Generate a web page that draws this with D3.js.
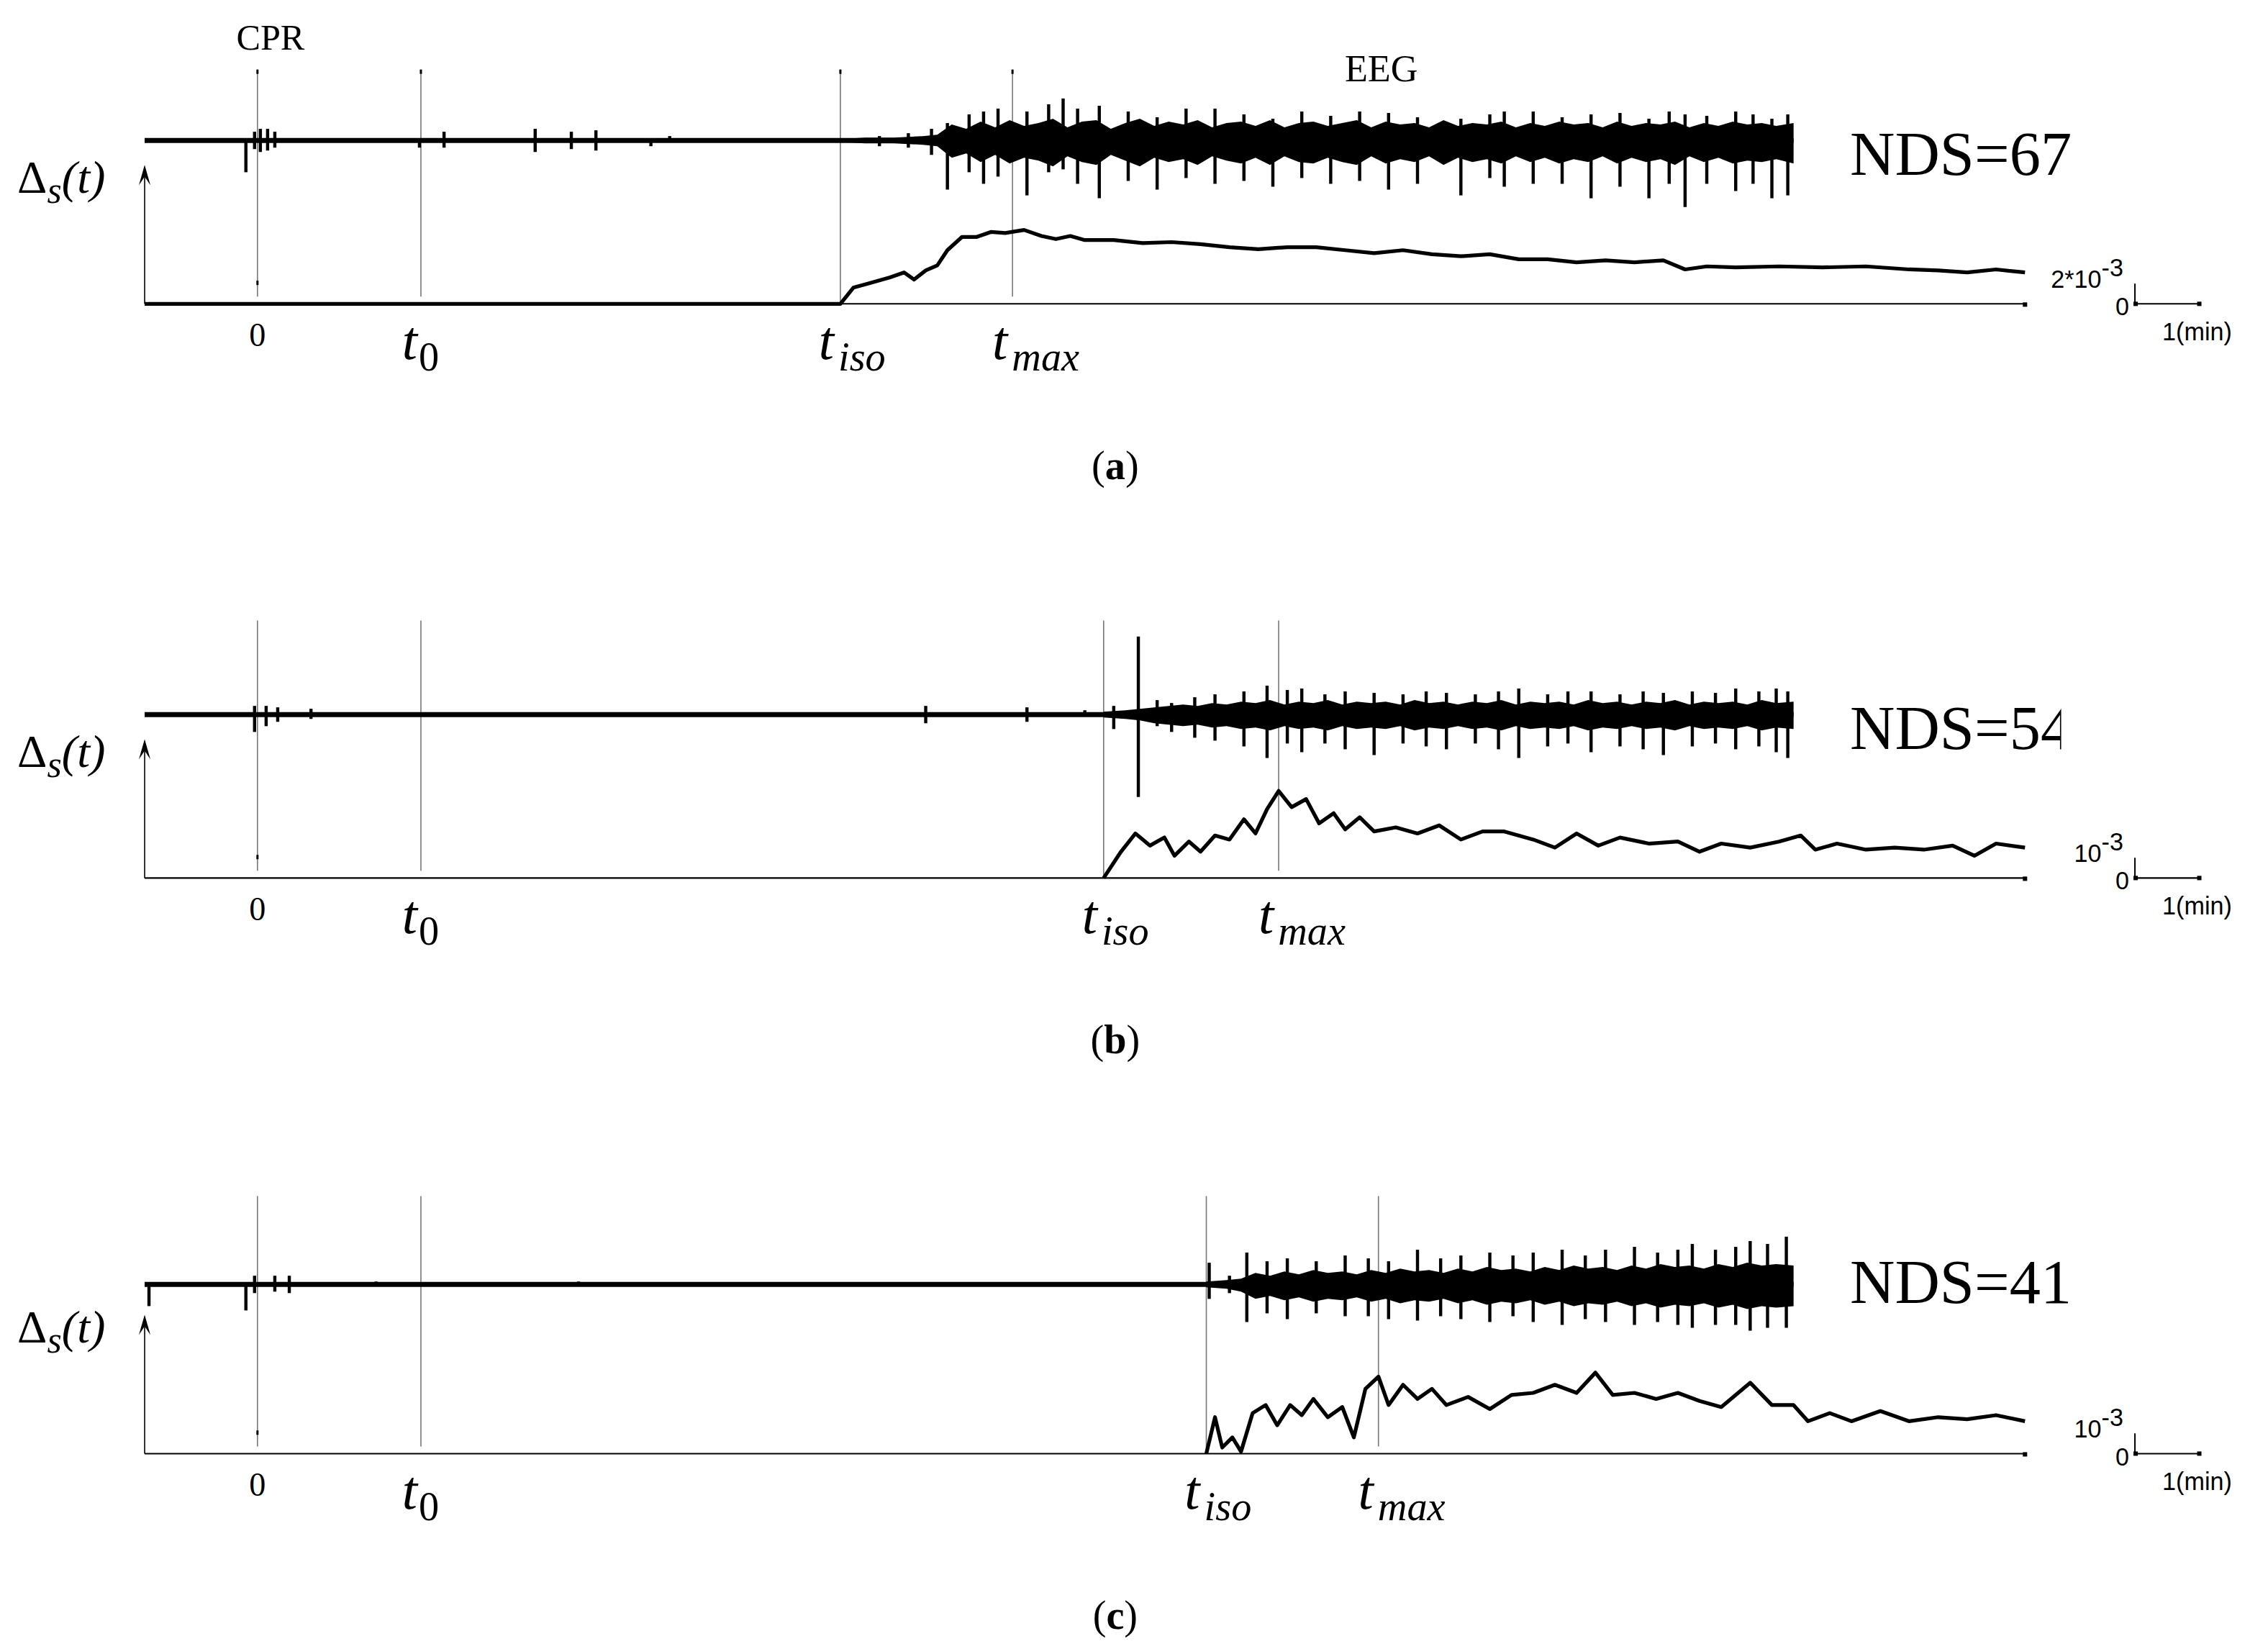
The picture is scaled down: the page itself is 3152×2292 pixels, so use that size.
<!DOCTYPE html>
<html>
<head>
<meta charset="utf-8">
<script src="https://cdn.jsdelivr.net/npm/d3@7"></script>
<style>
  body { margin: 0; background: #fff; }
  svg { display: block; }
</style>
</head>
<body>
<div id="chart"></div>
<script>
// ---- data (time in minutes, 0 = start of CPR) ----
const panels = ["a", "b", "c"];
const ndsScores = [67, 54, 41];
const scaleLabels = ["2*10", "10", "10"];
const scaleUnits = [2, 1, 1];          // size of scale bar in 10^-3
const t0Times = [5.65, 5.65, 5.65];
const tisoTimes = [20.15, 29.25, 32.8];
const tmaxTimes = [26.1, 35.3, 38.75];
const eegEnd = 53.1;

// Delta_s(t) curves, units of 10^-3
const deltaTimesA = [-3.9, 20.15, 20.6, 21.1, 21.85, 22.35, 22.7, 23.1, 23.5, 23.85, 24.35, 24.85, 25.35, 25.85, 26.5, 27.1, 27.6, 28.1, 28.6, 29.6, 30.6, 31.6, 32.6, 33.6, 34.6, 35.6, 36.6, 37.6, 38.6, 39.6, 40.6, 41.6, 42.6, 43.6, 44.6, 45.6, 46.6, 47.6, 48.6, 49.35, 50.1, 51.1, 52.6, 54.1, 55.6, 57.1, 58.1, 59.1, 60.1, 61.1];
const deltaValuesA = [0, 0, 1.6, 2.0, 2.6, 3.1, 2.4, 3.3, 3.8, 5.3, 6.6, 6.6, 7.1, 7.0, 7.3, 6.7, 6.4, 6.7, 6.3, 6.3, 6.0, 6.1, 5.9, 5.6, 5.4, 5.6, 5.6, 5.3, 5.0, 5.3, 4.9, 4.7, 4.9, 4.4, 4.4, 4.1, 4.3, 4.1, 4.3, 3.4, 3.7, 3.6, 3.7, 3.6, 3.7, 3.4, 3.3, 3.1, 3.4, 3.1];
const deltaTimesB = [29.25, 29.85, 30.35, 30.85, 31.35, 31.7, 32.2, 32.6, 33.1, 33.6, 34.1, 34.5, 34.9, 35.3, 35.75, 36.25, 36.7, 37.2, 37.6, 38.1, 38.6, 39.35, 40.1, 40.85, 41.6, 42.35, 43.1, 44.1, 44.85, 45.6, 46.35, 47.1, 48.1, 49.1, 49.85, 50.6, 51.6, 52.6, 53.35, 53.85, 54.6, 55.6, 56.6, 57.6, 58.6, 59.35, 60.1, 61.1];
const deltaValuesB = [0, 1.3, 2.2, 1.6, 2.0, 1.1, 1.8, 1.3, 2.1, 1.9, 2.9, 2.2, 3.4, 4.3, 3.5, 3.9, 2.7, 3.2, 2.4, 3.0, 2.3, 2.5, 2.2, 2.6, 1.9, 2.3, 2.3, 1.9, 1.5, 2.2, 1.6, 2.0, 1.7, 1.8, 1.3, 1.7, 1.5, 1.8, 2.1, 1.4, 1.7, 1.4, 1.5, 1.4, 1.6, 1.1, 1.7, 1.5];
const deltaTimesC = [32.8, 33.1, 33.35, 33.7, 34.0, 34.4, 34.85, 35.25, 35.7, 36.1, 36.5, 37.0, 37.5, 37.9, 38.3, 38.75, 39.1, 39.6, 40.1, 40.6, 41.1, 41.85, 42.6, 43.35, 44.1, 44.85, 45.6, 46.25, 46.85, 47.6, 48.35, 49.1, 49.85, 50.6, 51.6, 52.35, 53.1, 53.6, 54.35, 55.1, 56.1, 57.1, 58.1, 59.1, 60.1, 61.1];
const deltaValuesC = [0, 1.8, 0.3, 0.8, 0.1, 2.0, 2.4, 1.4, 2.4, 1.9, 2.7, 1.8, 2.3, 0.8, 3.2, 3.8, 2.4, 3.4, 2.7, 3.2, 2.4, 2.8, 2.2, 2.9, 3.0, 3.4, 3.0, 4.0, 2.9, 3.0, 2.7, 3.0, 2.6, 2.3, 3.5, 2.4, 2.4, 1.6, 2.0, 1.6, 2.1, 1.6, 1.8, 1.7, 1.9, 1.6];

// EEG: dense activity as an envelope (upper / lower amplitude, a.u.)
const envTimesA = [20.15, 21, 22, 23, 23.5, 24, 24.5, 25, 25.5, 26, 26.5, 27, 27.5, 28, 28.5, 29, 29.5, 30, 30.5, 31, 31.5, 32, 32.5, 33, 33.5, 34, 34.5, 35, 35.5, 36, 36.5, 37, 37.5, 38, 38.5, 39, 39.5, 40, 40.5, 41, 41.5, 42, 42.5, 43, 43.5, 44, 44.5, 45, 45.5, 46, 46.5, 47, 47.5, 48, 48.5, 49, 49.5, 50, 50.5, 51, 51.5, 52, 52.5, 53.1];
const envUpA = [1, 2, 2, 3, 4, 11, 8, 13, 9, 14, 10, 12, 15, 9, 13, 14, 8, 12, 15, 10, 13, 11, 14, 9, 12, 13, 10, 14, 9, 12, 13, 10, 12, 14, 9, 13, 11, 12, 9, 14, 10, 12, 11, 13, 9, 12, 10, 13, 11, 12, 9, 13, 10, 12, 11, 13, 9, 12, 10, 13, 11, 12, 10, 12];
const envDownA = [1, 2, 2, 3, 4, 12, 9, 15, 10, 16, 12, 14, 18, 11, 15, 17, 10, 14, 18, 12, 15, 13, 17, 11, 14, 16, 12, 17, 11, 15, 16, 12, 15, 17, 11, 16, 13, 15, 11, 17, 12, 15, 13, 16, 11, 15, 12, 16, 13, 15, 11, 16, 12, 15, 13, 17, 11, 15, 12, 16, 14, 15, 13, 16];
const envTimesB = [29.25, 30, 30.5, 31, 31.5, 32, 32.5, 33, 33.5, 34, 34.5, 35, 35.5, 36, 36.5, 37, 37.5, 38, 38.5, 39, 39.5, 40, 40.5, 41, 41.5, 42, 42.5, 43, 43.5, 44, 44.5, 45, 45.5, 46, 46.5, 47, 47.5, 48, 48.5, 49, 49.5, 50, 50.5, 51, 51.5, 52, 52.5, 53.1];
const envUpB = [2, 3, 4, 5, 6, 7, 6, 8, 7, 9, 8, 10, 7, 9, 8, 10, 7, 9, 8, 9, 7, 10, 8, 9, 7, 9, 8, 10, 7, 9, 8, 9, 7, 10, 8, 9, 7, 9, 8, 10, 7, 9, 8, 9, 7, 10, 8, 9];
const envDownB = [2, 3, 4, 6, 7, 8, 7, 9, 8, 10, 9, 11, 8, 10, 9, 11, 8, 10, 9, 10, 8, 11, 9, 10, 8, 10, 9, 11, 8, 10, 9, 10, 8, 11, 9, 10, 8, 10, 9, 11, 8, 10, 9, 10, 8, 11, 9, 10];
const envTimesC = [32.8, 33.5, 34, 34.5, 35, 35.5, 36, 36.5, 37, 37.5, 38, 38.5, 39, 39.5, 40, 40.5, 41, 41.5, 42, 42.5, 43, 43.5, 44, 44.5, 45, 45.5, 46, 46.5, 47, 47.5, 48, 48.5, 49, 49.5, 50, 50.5, 51, 51.5, 52, 52.5, 53.1];
const envUpC = [2, 3, 4, 8, 6, 9, 7, 10, 8, 9, 7, 10, 8, 11, 9, 10, 8, 11, 9, 12, 10, 11, 9, 12, 10, 13, 11, 12, 10, 13, 11, 14, 12, 13, 11, 14, 12, 15, 13, 14, 13];
const envDownC = [2, 3, 5, 10, 8, 11, 9, 12, 10, 11, 9, 12, 10, 13, 11, 12, 10, 13, 11, 14, 12, 13, 11, 14, 12, 15, 13, 14, 12, 15, 13, 16, 14, 15, 13, 16, 14, 17, 15, 16, 15];

// EEG single spikes: [time, up, down]
const spikesA = [[-0.4, 0, 22], [-0.1, 6, 6], [0.1, 8, 8], [0.35, 8, 7], [0.6, 6, 5], [5.6, 0, 5], [6.45, 6, 5], [9.6, 8, 8], [10.85, 6, 6], [11.7, 7, 7], [13.6, 0, 4], [14.25, 3, 0], [21.5, 3, 4], [22.5, 5, 5],
  [23.3, 8, 10], [23.85, 12, 34], [24.6, 18, 22], [25.1, 20, 30], [25.6, 22, 25], [26.6, 20, 38], [27.35, 25, 22], [27.85, 29, 20], [28.35, 22, 30], [29.1, 24, 40], [30.1, 20, 28], [31.1, 16, 34], [32.1, 22, 26], [33.1, 22, 30], [34.1, 18, 28], [35.1, 15, 32], [36.1, 20, 26], [37.1, 17, 30], [38.1, 20, 28], [39.1, 19, 34], [40.1, 16, 30], [41.6, 15, 38], [42.6, 18, 26], [43.1, 20, 32], [44.1, 20, 30], [45.1, 16, 30], [46.1, 18, 40], [47.1, 19, 32], [48.1, 15, 40], [48.8, 20, 30], [49.35, 18, 46], [50.1, 17, 30], [51.1, 20, 35], [51.7, 18, 30], [52.35, 15, 40], [52.9, 18, 38]];
const spikesB = [[-0.1, 6, 12], [0.3, 6, 8], [0.7, 5, 5], [1.85, 4, 3], [23.1, 6, 6], [26.6, 5, 5], [28.6, 3, 0], [29.6, 6, 10], [30.45, 54, 57], [31.1, 10, 8], [31.6, 8, 12], [32.4, 12, 16], [33.1, 14, 18], [34.1, 16, 22], [34.9, 20, 30], [35.6, 17, 20], [36.1, 18, 26], [36.9, 14, 20], [37.6, 16, 24], [38.6, 15, 28], [39.6, 14, 20], [40.4, 16, 22], [41.1, 15, 24], [42.1, 14, 20], [42.9, 16, 24], [43.6, 18, 30], [44.6, 14, 22], [45.3, 16, 20], [46.1, 16, 26], [47.1, 14, 22], [47.9, 16, 24], [48.6, 15, 28], [49.6, 16, 22], [50.4, 15, 20], [51.1, 18, 24], [51.9, 16, 22], [52.5, 18, 26], [52.9, 16, 30]];
const spikesC = [[-3.75, 0, 15], [-0.4, 0, 18], [-0.1, 6, 6], [0.6, 6, 5], [1.1, 6, 6], [4.1, 2, 0], [11.1, 2, 0], [32.9, 15, 10], [33.6, 6, 6], [34.2, 22, 26], [34.9, 16, 20], [35.6, 18, 24], [36.6, 16, 20], [37.6, 20, 22], [38.4, 18, 22], [39.1, 16, 24], [40.1, 24, 25], [40.9, 18, 22], [41.6, 20, 24], [42.6, 22, 26], [43.4, 20, 22], [44.1, 22, 26], [45.1, 24, 28], [45.9, 20, 24], [46.6, 24, 26], [47.6, 26, 28], [48.4, 22, 26], [49.1, 24, 28], [49.6, 28, 30], [50.4, 24, 28], [51.1, 26, 28], [51.6, 30, 32], [52.2, 28, 30], [52.85, 33, 30]];

const deltaTimes = [deltaTimesA, deltaTimesB, deltaTimesC];
const deltaValues = [deltaValuesA, deltaValuesB, deltaValuesC];
const envTimes = [envTimesA, envTimesB, envTimesC];
const envUp = [envUpA, envUpB, envUpC];
const envDown = [envDownA, envDownB, envDownC];
const spikes = [spikesA, spikesB, spikesC];

// ---- layout (drawn in a 1568 x 1140 frame, scaled to the window) ----
const W = 1568, H = 1140;
const panelTop = [0, 397, 795];
const serif = "'Liberation Serif', 'DejaVu Serif', serif";
const sans = "'Liberation Sans', Arial, sans-serif";

const svg = d3.select("#chart").append("svg")
  .attr("width", 3152).attr("height", 2292)
  .attr("viewBox", `0 0 ${W} ${H}`);

const x = d3.scaleLinear().domain([-3.9, 61.1]).range([100, 1400]);

panels.forEach((p, i) => {
  const g = svg.append("g").attr("transform", `translate(0,${panelTop[i]})`);
  const eegBase = [97, 97, 93][i];
  const axisY = 210;
  const yE = d3.scaleLinear().domain([-50, 50]).range([eegBase + 50, eegBase - 50]);
  const yD = d3.scaleLinear().domain([0, 1]).range([axisY, axisY - 14 / scaleUnits[i]]);
  const lineTop = i === 0 ? 48 : 32;

  // vertical marker lines
  const marks = [0, t0Times[i], tisoTimes[i], tmaxTimes[i]];
  g.selectAll(".vline").data(marks).join("line")
    .attr("x1", d => x(d)).attr("x2", d => x(d))
    .attr("y1", lineTop).attr("y2", (d, k) => k === 2 ? axisY : axisY - 5)
    .attr("stroke", "#777").attr("stroke-width", 0.8);
  if (i === 0) {
    g.selectAll(".vtick").data(marks).join("line")
      .attr("x1", d => x(d)).attr("x2", d => x(d))
      .attr("y1", lineTop).attr("y2", lineTop + 3)
      .attr("stroke", "#000").attr("stroke-width", 1.5);
  }
  g.append("line").attr("x1", x(0)).attr("x2", x(0)).attr("y1", axisY - 16).attr("y2", axisY - 13)
    .attr("stroke", "#000").attr("stroke-width", 1.5);

  // time axis and Delta_s arrow
  g.append("line").attr("x1", x(-3.9)).attr("x2", x(61.1)).attr("y1", axisY).attr("y2", axisY)
    .attr("stroke", "#000").attr("stroke-width", 1);
  g.append("rect").attr("x", x(61.1) - 1.5).attr("y", axisY - 1).attr("width", 3).attr("height", 3).attr("fill", "#000");
  g.append("line").attr("x1", x(-3.9)).attr("x2", x(-3.9)).attr("y1", axisY).attr("y2", 118)
    .attr("stroke", "#000").attr("stroke-width", 0.8);
  g.append("path").attr("d", `M${x(-3.9) - 4},128 L${x(-3.9)},114 L${x(-3.9) + 4},128 L${x(-3.9)},122 Z`).attr("fill", "#000");

  // EEG baseline
  g.append("line").attr("x1", x(-3.9)).attr("x2", x(eegEnd)).attr("y1", yE(0)).attr("y2", yE(0))
    .attr("stroke", "#000").attr("stroke-width", 3.5);

  // EEG envelope
  const env = d3.zip(envTimes[i], envUp[i], envDown[i]);
  g.append("path").datum(env)
    .attr("d", d3.area().x(d => x(d[0])).y0(d => yE(-d[2])).y1(d => yE(d[1])))
    .attr("fill", "#000");
  g.selectAll(".spk").data(spikes[i]).join("line")
    .attr("x1", d => x(d[0])).attr("x2", d => x(d[0]))
    .attr("y1", d => yE(d[1])).attr("y2", d => yE(-d[2]))
    .attr("stroke", "#000").attr("stroke-width", 2.2);

  // Delta_s curve
  g.append("path").datum(d3.zip(deltaTimes[i], deltaValues[i]))
    .attr("d", d3.line().x(d => x(d[0])).y(d => yD(d[1])))
    .attr("fill", "none").attr("stroke", "#000").attr("stroke-width", 2.6).attr("stroke-linejoin", "round");

  // tick labels
  g.append("text").attr("x", x(0)).attr("y", 239).attr("text-anchor", "middle")
    .style("font-family", serif).style("font-size", "23px").text("0");
  const tl = (t, sub, dx) => {
    const tx = g.append("text").attr("x", x(t) + dx).attr("y", 248)
      .style("font-family", serif).style("font-style", "italic").style("font-size", "38px");
    tx.append("tspan").text("t");
    tx.append("tspan").attr("dy", 8).attr("dx", sub === "0" ? 1 : 3).style("font-size", "28px")
      .style("font-style", sub === "0" ? "normal" : "italic").text(sub);
  };
  tl(t0Times[i], "0", -13);
  tl(tisoTimes[i], "iso", -15);
  tl(tmaxTimes[i], "max", -14);

  // Delta_s(t) label
  const dl = g.append("text").attr("x", 12).attr("y", 133).style("font-family", serif).style("font-size", "32px");
  dl.append("tspan").text("Δ");
  dl.append("tspan").attr("dy", 7).style("font-style", "italic").style("font-size", "26px").text("s");
  dl.append("tspan").attr("dy", -7).style("font-style", "italic").text("(t)");

  // NDS score (clipped at the right page edge in (b))
  const clipId = "clip" + p;
  g.append("clipPath").attr("id", clipId).append("rect").attr("x", 1200).attr("y", 0).attr("width", i === 1 ? 225 : 300).attr("height", 300);
  g.append("text").attr("x", 1279).attr("y", i === 2 ? 106 : 121).attr("clip-path", `url(#${clipId})`)
    .style("font-family", serif).style("font-size", "43px").text("NDS=" + ndsScores[i]);

  // scale bar
  const sbx = 1476;
  g.append("line").attr("x1", sbx).attr("x2", sbx).attr("y1", yD(scaleUnits[i])).attr("y2", axisY)
    .attr("stroke", "#000").attr("stroke-width", 1);
  g.append("line").attr("x1", sbx).attr("x2", sbx + 44).attr("y1", axisY).attr("y2", axisY)
    .attr("stroke", "#000").attr("stroke-width", 1);
  g.append("rect").attr("x", sbx - 1).attr("y", axisY - 1.5).attr("width", 3).attr("height", 3);
  g.append("rect").attr("x", sbx + 43).attr("y", axisY - 1.5).attr("width", 3).attr("height", 3);
  const sl = g.append("text").attr("x", 1468).attr("y", 199).attr("text-anchor", "end")
    .style("font-family", sans).style("font-size", "17px");
  sl.append("tspan").text(scaleLabels[i]);
  sl.append("tspan").attr("dy", -8).text("-3");
  g.append("text").attr("x", 1472).attr("y", 218).attr("text-anchor", "end")
    .style("font-family", sans).style("font-size", "17px").text("0");
  g.append("text").attr("x", 1519).attr("y", 235).attr("text-anchor", "middle")
    .style("font-family", sans).style("font-size", "17px").text("1(min)");

  // panel letter
  const pl = g.append("text").attr("x", 771).attr("y", 331).attr("text-anchor", "middle")
    .style("font-family", serif).style("font-size", "28px");
  pl.append("tspan").text("(");
  pl.append("tspan").style("font-weight", "bold").text(p);
  pl.append("tspan").text(")");

  if (i === 0) {
    g.append("text").attr("x", 187).attr("y", 34).attr("text-anchor", "middle")
      .style("font-family", serif).style("font-size", "25px").text("CPR");
    g.append("text").attr("x", 955).attr("y", 56).attr("text-anchor", "middle")
      .style("font-family", serif).style("font-size", "26px").text("EEG");
  }
});
</script>
</body>
</html>
